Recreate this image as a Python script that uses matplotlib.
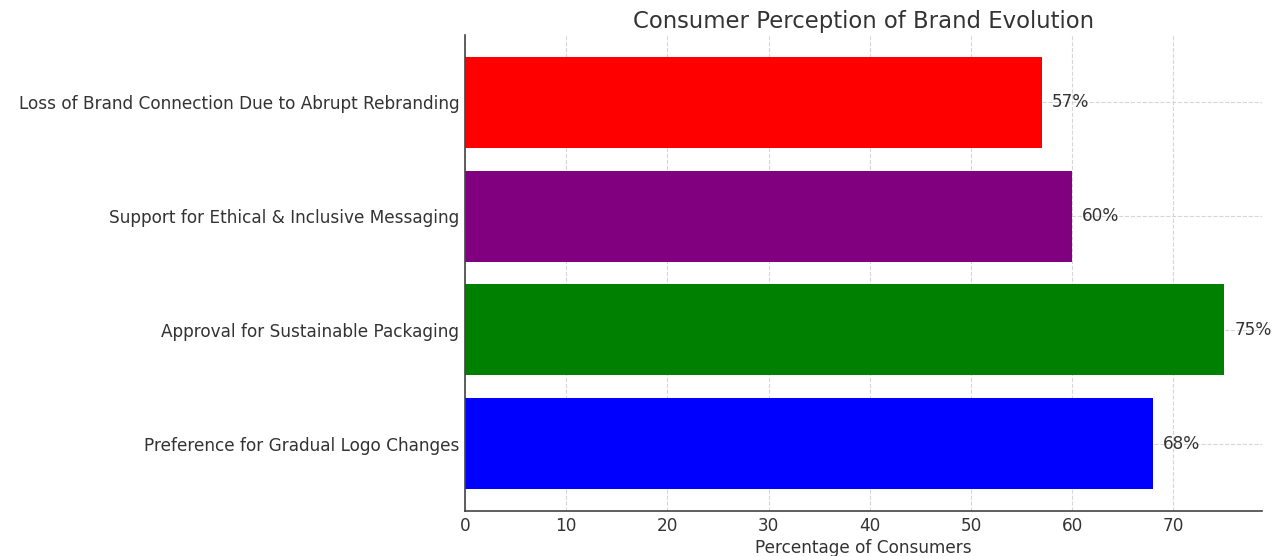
import matplotlib.pyplot as plt
import numpy as np

# Survey results on brand evolution
categories = [
    "Preference for Gradual Logo Changes",
    "Approval for Sustainable Packaging",
    "Support for Ethical & Inclusive Messaging",
    "Loss of Brand Connection Due to Abrupt Rebranding",
]
percentages = [68, 75, 60, 57]
colors = ["blue", "green", "purple", "red"]

text_color = "#333333"
plt.rcParams["font.family"] = "DejaVu Sans"
plt.rcParams["text.color"] = text_color
plt.rcParams["axes.labelcolor"] = text_color
plt.rcParams["xtick.color"] = text_color
plt.rcParams["ytick.color"] = text_color

fig = plt.figure(figsize=(12.83, 5.56), dpi=100)
ax = fig.add_axes([0.3624, 0.081, 0.6212, 0.856])

y = np.arange(len(categories))
bars = ax.barh(y, percentages, color=colors, height=0.8)

# Value labels to the right of each bar
for bar, val in zip(bars, percentages):
    ax.text(bar.get_width() + 1, bar.get_y() + bar.get_height() / 2,
            f"{val}%", va="center", ha="left", fontsize=12.2)

ax.set_yticks(y)
ax.set_yticklabels(categories, fontsize=12.2)
ax.tick_params(axis="both", length=0, pad=4)
ax.tick_params(axis="x", labelsize=12.2)
ax.set_xlabel("Percentage of Consumers", fontsize=12.2, labelpad=3)
ax.set_title("Consumer Perception of Brand Evolution", fontsize=16.4, pad=5)

ax.grid(True, linestyle="--", color="#cccccc", alpha=0.8)
ax.set_axisbelow(True)
for side in ["top", "right"]:
    ax.spines[side].set_visible(False)
for side in ["left", "bottom"]:
    ax.spines[side].set_color("#444444")
    ax.spines[side].set_linewidth(1.2)

fig.savefig("out.png", dpi=100)
